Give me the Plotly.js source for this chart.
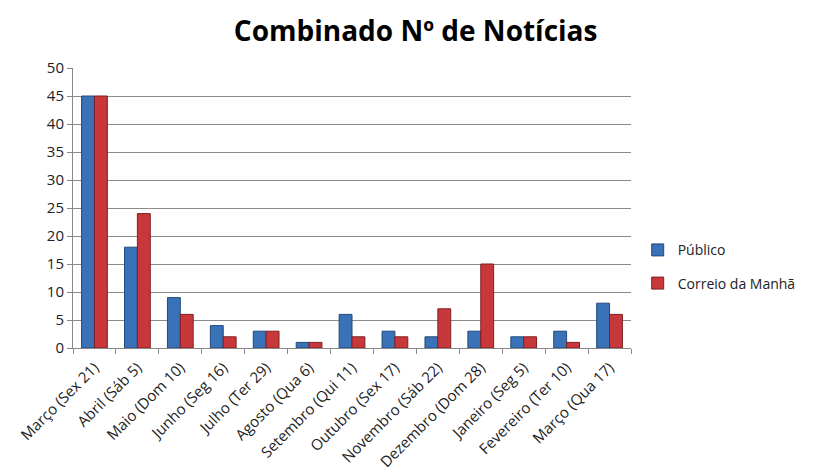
<!DOCTYPE html>
<html><head><meta charset="utf-8">
<script src="https://cdn.plot.ly/plotly-3.0.1.min.js"></script>
<style>body{margin:0;background:#fff}#c{width:815px;height:474px}</style>
</head><body><div id="c"></div>
<script>
const categories = ["Março (Sex 21)","Abril (Sáb 5)","Maio (Dom 10)","Junho (Seg 16)","Julho (Ter 29)","Agosto (Qua 6)","Setembro (Qui 11)","Outubro (Sex 17)","Novembro (Sáb 22)","Dezembro (Dom 28)","Janeiro (Seg 5)","Fevereiro (Ter 10)","Março (Qua 17)"];
const publico = [45,18,9,4,3,1,6,3,2,3,2,3,8];
const correio = [45,24,6,2,3,1,2,2,7,15,2,1,6];
const font = "Open Sans, Noto Sans, sans-serif";
const traces = [
 {type:'bar', name:'Público', legendgroup:'a', x:categories, y:publico, marker:{color:'#3a72b8', line:{color:'#24497a', width:1}}},
 {type:'bar', name:'Correio da Manhã', legendgroup:'b', x:categories, y:correio, marker:{color:'#c8383a', line:{color:'#7e1f20', width:1}}}
];
const layout = {
 width:815, height:474,
 margin:{l:73, r:184, t:68, b:126},
 paper_bgcolor:'#fff', plot_bgcolor:'#fff',
 font:{family:font, color:'#222', size:13},
 title:{text:'<b>Combinado Nº de Notícias</b>', x:0.51, xref:'container', xanchor:'center', y:0.935, yref:'container', yanchor:'middle', font:{size:28, family:font, color:'#000'}},
 barmode:'group', bargap:0.4, bargroupgap:0,
 xaxis:{type:'category', tickangle:-45, range:[-0.5,12.5], ticklabelstandoff:4,
   ticks:'outside', tickson:'boundaries', ticklen:5, tickcolor:'#888', showline:true, linecolor:'#888', showgrid:false, tickfont:{size:15, family:font}, automargin:false},
 yaxis:{range:[0,50], dtick:5, showgrid:true, gridcolor:'#8c8c8c', gridwidth:1, showline:true, linecolor:'#888',
   ticks:'outside', ticklen:5, tickcolor:'#888', tickfont:{size:15, family:font}, zeroline:false, automargin:false},
 legend:{x:1.012, xanchor:'left', y:0.29, yanchor:'middle', font:{size:14, family:font}, tracegroupgap:12, itemwidth:30},
 showlegend:true
};
Plotly.newPlot('c', traces, layout, {displayModeBar:false, staticPlot:true});
</script></body></html>
